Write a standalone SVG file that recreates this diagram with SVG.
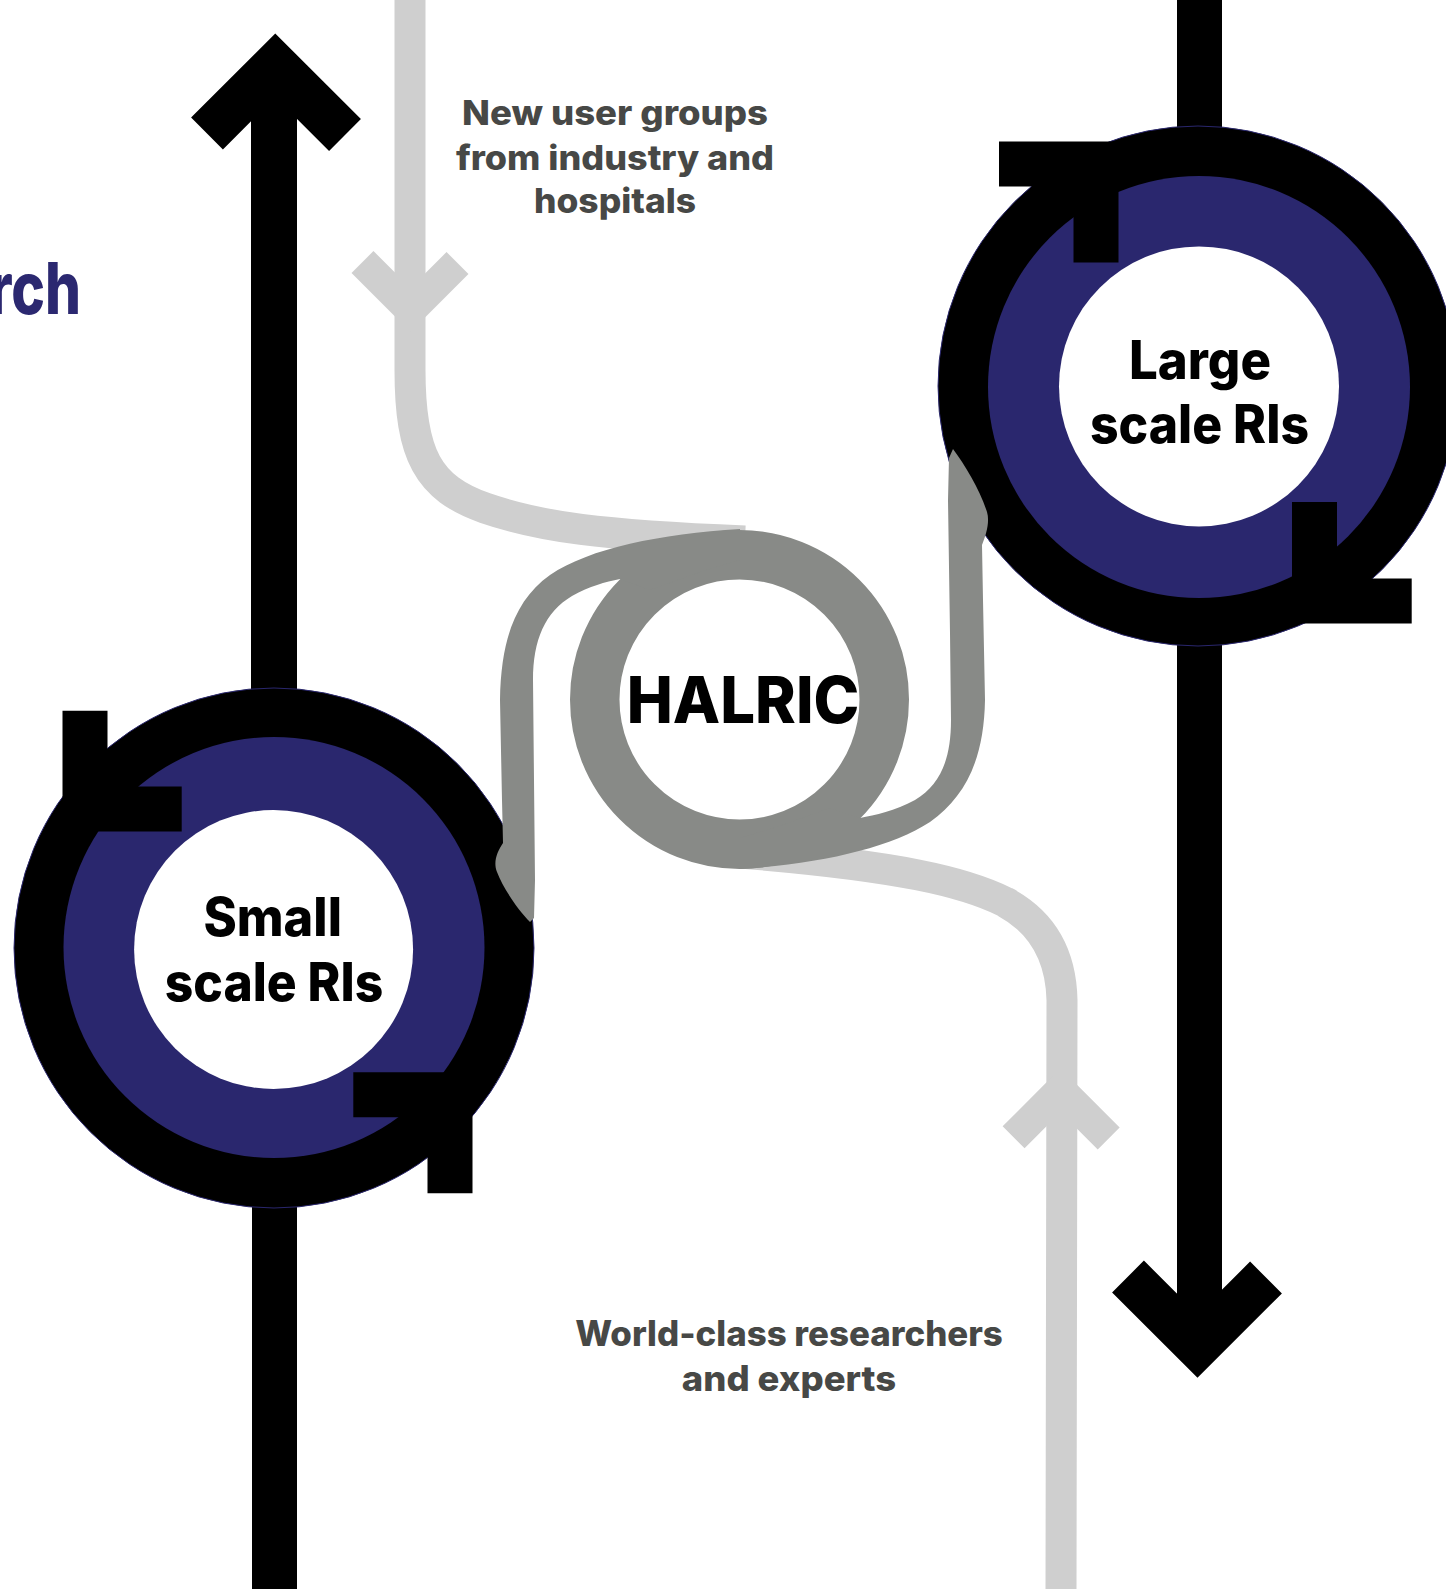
<svg xmlns="http://www.w3.org/2000/svg" width="1446" height="1589" viewBox="0 0 1446 1589">
  <style>
    .blk { fill: #000; }
    .chev-blk { fill: none; stroke: #000; stroke-width: 45; stroke-linejoin: miter; stroke-miterlimit: 10; stroke-linecap: butt; }
    .chev-lg { fill: none; stroke: #cfcfcf; stroke-width: 31; stroke-linejoin: miter; stroke-miterlimit: 10; stroke-linecap: butt; }
    .line-lg { fill: none; stroke: #cfcfcf; stroke-width: 31; }
    .ring-out { fill: #000; stroke: #2a276e; stroke-width: 1; }
    .ring-mid { fill: #2a276e; }
    .ring-in { fill: #fff; }
    .dg { fill: #888a87; }
    .lbl { font-family: Inter, Lato, "Liberation Sans", sans-serif; font-weight: 800; fill: #474846; text-anchor: middle; }
    .ntxt { font-family: Inter, Lato, "Liberation Sans", sans-serif; font-weight: 800; fill: #000; text-anchor: middle; }
  </style>
  <rect width="1446" height="1589" fill="#fff"/>

  <text id="heading-fragment" x="81" y="314" font-family="Inter, Lato, 'Liberation Sans', sans-serif" font-weight="800" font-size="72" fill="#2b2870" text-anchor="end" textLength="92" lengthAdjust="spacingAndGlyphs">rch</text>

  <g id="connectors">
    <rect class="blk" x="251" y="90" width="46" height="610"/>
    <polyline class="chev-blk" points="207,133.5 275.25,65.25 345,135"/>
    <rect class="blk" x="252" y="1180" width="45" height="409"/>
    <rect class="blk" x="1177" y="0" width="45" height="150"/>
    <rect class="blk" x="1177" y="620" width="45" height="700"/>
    <polyline class="chev-blk" points="1128,1276.5 1197.5,1346 1266,1277.5"/>
    <path class="line-lg" d="M410,0 L410,370 C410,455 428,488 485,508 C540,527 600,535 745,541"/>
    <polyline class="chev-lg" points="362.5,262 410.5,310 457.5,263"/>
    <path class="line-lg" d="M1061,1589 L1062,1000 C1061,955 1042,922 1005,902 C965,882 900,866 740,853"/>
    <polyline class="chev-lg" points="1013.6,1137.3 1060.5,1090.3 1108.7,1138.5"/>
  </g>

  <g id="node-large">
    <circle class="ring-out" cx="1198" cy="386" r="260"/>
    <circle class="ring-mid" cx="1199" cy="387" r="211"/>
    <circle class="ring-in" cx="1199" cy="386.4" r="140"/>
    <polyline class="chev-blk" points="999,164 1096,164 1096,262.5"/>
    <polyline class="chev-blk" points="1314.5,502 1314.5,601 1411.7,601"/>
    <text class="ntxt" x="1200" y="378.6" font-size="53" textLength="142" lengthAdjust="spacingAndGlyphs">Large</text>
    <text class="ntxt" x="1199.5" y="442.5" font-size="53" textLength="219" lengthAdjust="spacingAndGlyphs">scale RIs</text>
  </g>

  <g id="node-small">
    <circle class="ring-out" cx="274" cy="948" r="260"/>
    <circle class="ring-mid" cx="274" cy="947.5" r="210.5"/>
    <circle class="ring-in" cx="273.6" cy="949.5" r="139.5"/>
    <polyline class="chev-blk" points="85,710.7 85,809 181.7,809"/>
    <polyline class="chev-blk" points="353.3,1094.8 450,1094.8 450,1193.3"/>
    <text class="ntxt" x="272.7" y="935.5" font-size="53" textLength="138.6" lengthAdjust="spacingAndGlyphs">Small</text>
    <text class="ntxt" x="274" y="1000.5" font-size="53" textLength="218.5" lengthAdjust="spacingAndGlyphs">scale RIs</text>
  </g>

  <g id="node-halric">
    <circle cx="739.5" cy="699.5" r="144.75" fill="#fff" stroke="#888a87" stroke-width="49.5"/>
    <path class="dg" d="M740,529 C660,534 590,548 550,575 C515,600 501,640 500,700 L502,800 L503,843 C497,852 493,862 497,872 C503,888 518,910 530,922 L534,918 L535,880 L533,680 C533,640 545,612 572,596 C590,586 605,582 620,579 L650,590 L700,572 L740,560 Z"/>
    <path class="dg" d="M740,869 C820,864 890,848 930,822 C965,797 984,760 985,700 L983,600 L982,545 C986,535 990,522 987,512 C980,490 965,465 953,449 L949,458 L948,500 L950,633 L951,720 C951,760 940,785 915,800 C895,811 875,815 860,818 L830,808 L780,826 L740,838 Z"/>
    <text class="ntxt" x="743" y="723.3" font-size="64" textLength="232.7" lengthAdjust="spacingAndGlyphs">HALRIC</text>
  </g>

  <g id="label-new-users">
    <text class="lbl" x="615" y="125" font-size="34" textLength="306" lengthAdjust="spacingAndGlyphs">New user groups</text>
    <text class="lbl" x="615" y="170" font-size="34" textLength="318" lengthAdjust="spacingAndGlyphs">from industry and</text>
    <text class="lbl" x="615" y="213.3" font-size="34" textLength="162" lengthAdjust="spacingAndGlyphs">hospitals</text>
  </g>

  <g id="label-researchers">
    <text class="lbl" x="789" y="1346.4" font-size="35" textLength="427.7" lengthAdjust="spacingAndGlyphs">World-class researchers</text>
    <text class="lbl" x="789" y="1390.8" font-size="35" textLength="214.3" lengthAdjust="spacingAndGlyphs">and experts</text>
  </g>
</svg>
